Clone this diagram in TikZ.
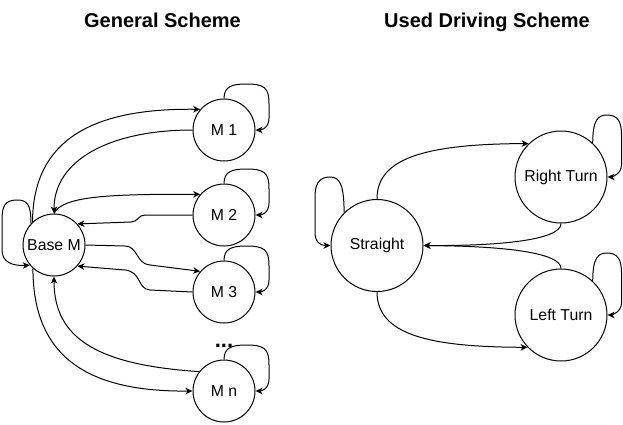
\documentclass[tikz,border=0pt]{standalone}
\usepackage{fontspec}
\setmainfont{Liberation Sans}
\usetikzlibrary{arrows.meta,calc}
\begin{document}
\begin{tikzpicture}[x=1pt,y=-1pt,
  state/.style={draw,circle,line width=1pt,inner sep=0pt,font=\fontsize{15.8}{18}\selectfont},
  small/.style={state,minimum size=62pt},
  big/.style={state,minimum size=92pt},
  arr/.style={line width=1pt,-{Stealth[length=7pt,width=6.5pt,inset=2pt]}},
  title/.style={font=\fontsize{20}{24}\selectfont\bfseries,anchor=base}]
\useasboundingbox (0,0) rectangle (623,424);
\node[title] (t1) at (162.5,27) {General Scheme};
\node[title] (t2) at (487,27) {Used Driving Scheme};
% left
\node[small] (base) at (54,245) {Base M};
\node[small] (m1) at (224,130) {M 1};
\node[small] (m2) at (224,215) {M 2};
\node[small] (m3) at (224,292) {M 3};
\node[small] (mn) at (224,391) {M n};
\node[font=\fontsize{22}{24}\selectfont\bfseries,anchor=base] (dots) at (224,347) {...};
% self loops on M nodes
\foreach \n in {m1,m2,m3,mn}{
  \draw[arr] (\n.north) .. controls +(0,-12) and +(-14,0) .. ($(\n.center)+(22,-46)$)
    .. controls +(19,0) and +(0,-16) .. ($(\n.center)+(45,-26)$)
    -- ($(\n.center)+(45,-12)$) .. controls +(0,10) and +(6,0) .. (\n.east);
}
% base loop
\draw[arr] (base.137) .. controls (31,204) and (27,200) .. (17,200)
  .. controls (5,200) and (2,206) .. (2,220) -- (2,250)
  .. controls (2,262) and (12,266) .. (base.220);
% base <-> m1
\draw[arr] (base.133) .. controls (33,138) and (95,108) .. (m1.139);
\draw[arr] (m1.west) .. controls (110,130) and (54,160) .. (base.north);
% base <-> m2
\draw[arr] (base.north) .. controls (62,196) and (110,194) .. (m2.139);
\draw[arr] (m2.west) -- (145,215) .. controls (138,215) and (138,222) .. (131,222) -- (base.42);
% base <-> m3
\draw[arr] (base.east) -- (125,246) .. controls (138,246) and (136,264) .. (150,265) -- (m3.139);
\draw[arr] (m3.west) -- (150,290) .. controls (137,289) and (142,272) .. (125,270) -- (base.-42);
% base <-> mn
\draw[arr] (base.228) .. controls (33,355) and (85,392) .. (mn.west);
\draw[arr] (mn.142) .. controls (100,365) and (54,340) .. (base.south);
% right
\node[big] (st) at (377,245.5) {Straight};
\node[big] (rt) at (561,177) {Right Turn};
\node[big] (lt) at (561,315) {Left Turn};
\draw[arr] (st.north) .. controls (377,160) and (420,144) .. (rt.134);
\draw[arr] (rt.south) .. controls (561,240) and (500,246) .. (st.east);
\draw[arr] (lt.north) .. controls (561,252) and (500,246) .. (st.east);
\draw[arr] (st.south) .. controls (377,335) and (430,347) .. (lt.224);
\foreach \n in {rt,lt}{
  \draw[arr] (\n.47) .. controls +(0,-23) and +(-9,0) .. ($(\n.center)+(46,-62)$)
    .. controls +(11,0) and +(0,-13) .. ($(\n.center)+(60.5,-42)$)
    -- ($(\n.center)+(60.5,-12)$) .. controls +(0,9) and +(4,0) .. (\n.east);
}
\draw[arr] (st.135) .. controls (344,185) and (340,177) .. (330,177)
  .. controls (319,177) and (315,184) .. (315,197) -- (315,232)
  .. controls (315,242) and (320,245.5) .. (st.west);
\end{tikzpicture}
\end{document}
